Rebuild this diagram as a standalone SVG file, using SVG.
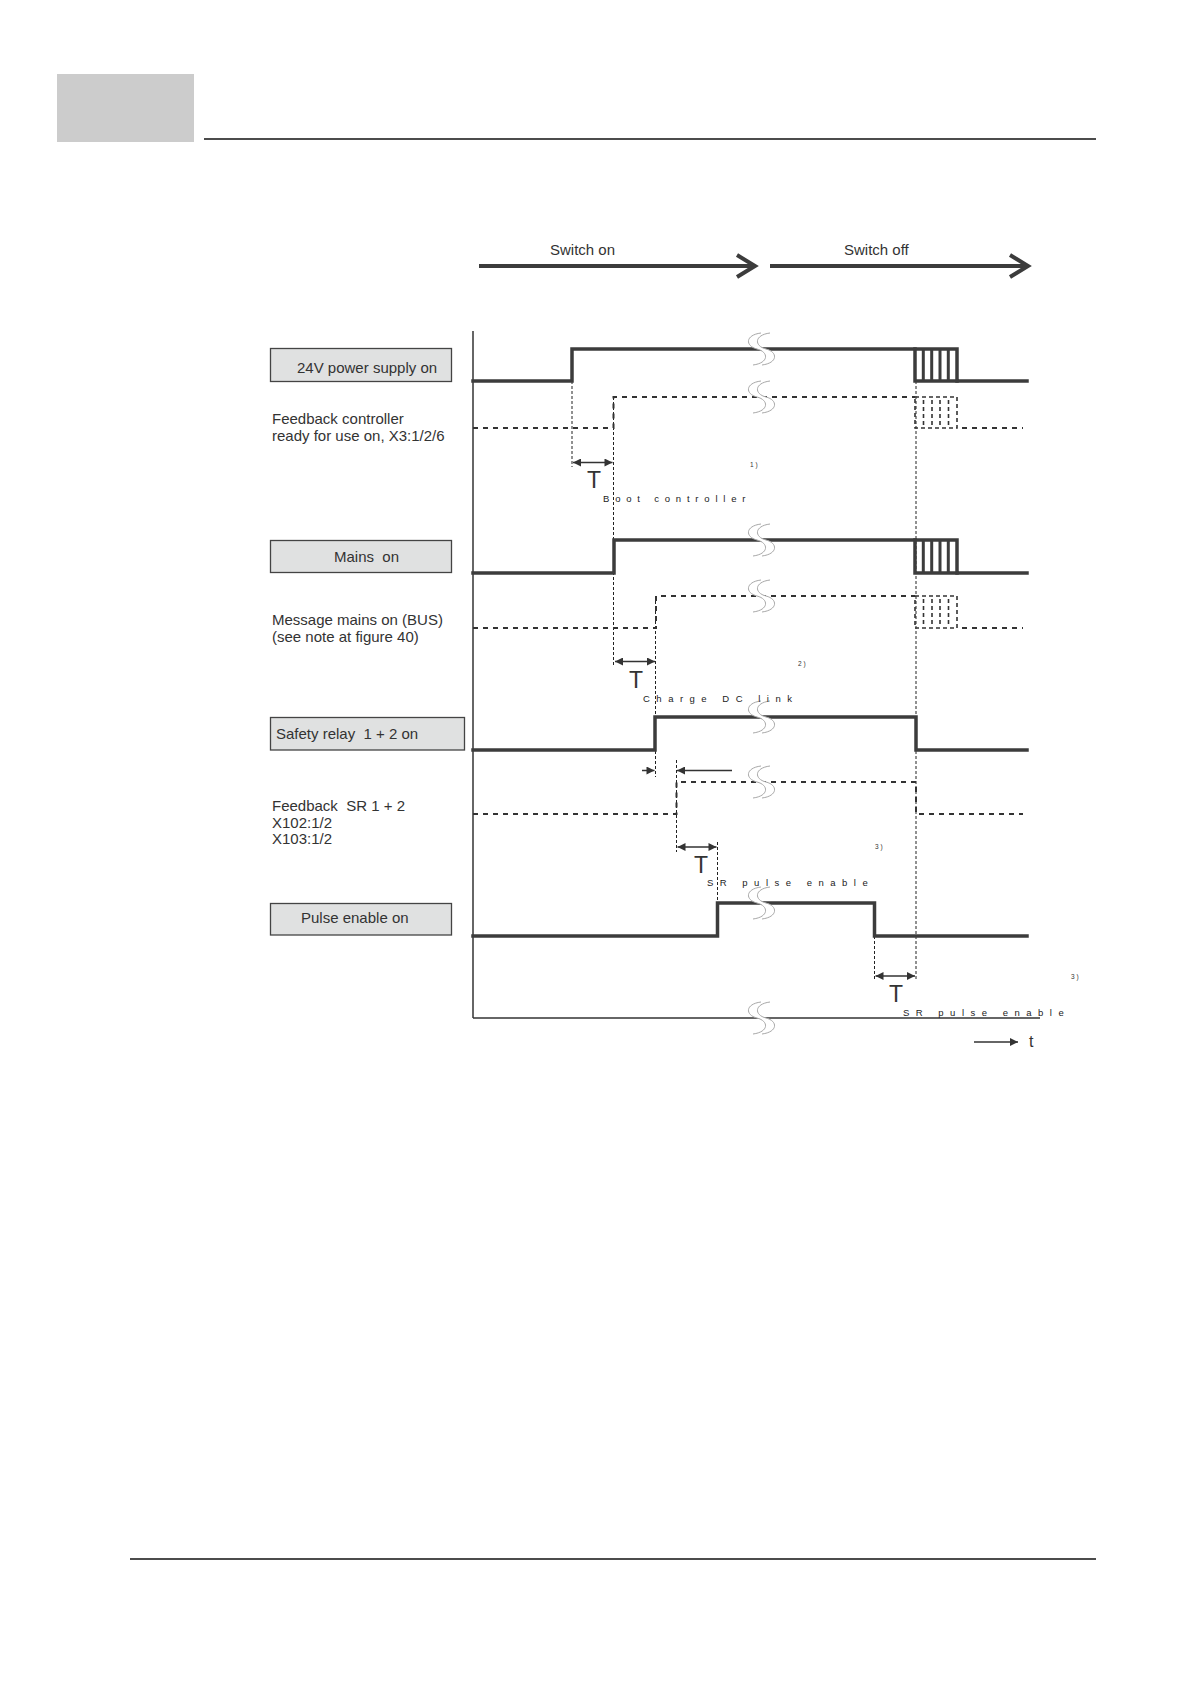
<svg xmlns="http://www.w3.org/2000/svg" width="1190" height="1684" viewBox="0 0 1190 1684">
<style>
text{font-family:"Liberation Sans",Arial,sans-serif;fill:#333;white-space:pre}
.lbl{font-size:15px}
.sp{font-size:9.5px;fill:#222}
.note{font-size:6.5px;letter-spacing:2px}
.T{font-size:23px;text-anchor:middle}
.box{fill:#e0e1e1;stroke:#444;stroke-width:1.3}
.sig{fill:none;stroke:#3c3c3c;stroke-width:3.5;stroke-linejoin:miter;stroke-linecap:square}
.bar{fill:none;stroke:#3c3c3c;stroke-width:3}
.dsig{fill:none;stroke:#333;stroke-width:2;stroke-dasharray:5 5}
.dbar{fill:none;stroke:#333;stroke-width:1.6;stroke-dasharray:4 3}
.guide{fill:none;stroke:#222;stroke-width:1;stroke-dasharray:3 2}
.tarr{fill:none;stroke:#333;stroke-width:1.5}
.axis{fill:none;stroke:#333;stroke-width:1.5}
.big{fill:none;stroke:#3c3c3c;stroke-width:4}
</style>
<defs>
<marker id="ah" viewBox="0 0 10 10" refX="10" refY="5" markerWidth="9" markerHeight="8" markerUnits="userSpaceOnUse" orient="auto-start-reverse">
<path d="M0,0 L10,5 L0,10 Z" fill="#333"/>
</marker>
<g id="brk">
<path d="M6,-16 C-10,-14 -10,-3 2,0 C14,3 14,14 -2,16 L7,16 C23,14 23,3 11,0 C-1,-3 -1,-14 15,-16 Z" fill="#fff"/>
<path d="M6,-16 C-10,-14 -10,-3 2,0 C14,3 14,14 -2,16" fill="none" stroke="#a8a8a8" stroke-width="1"/>
<path d="M15,-16 C-1,-14 -1,-3 11,0 C23,3 23,14 7,16" fill="none" stroke="#a8a8a8" stroke-width="1"/>
</g>
</defs>

<g id="header">
<rect x="57" y="74" width="137" height="68" fill="#cccccc"/>
<line x1="204" y1="139" x2="1096" y2="139" stroke="#111" stroke-width="1.5"/>
</g>
<g id="footer">
<line x1="130" y1="1559" x2="1096" y2="1559" stroke="#111" stroke-width="1.5"/>
</g>

<g id="phase-switch-on">
<line class="big" x1="479" y1="266" x2="753" y2="266"/>
<path class="big" d="M737,255 L755,266 L737,277"/>
<text class="lbl" x="550" y="255">Switch on</text>
</g>
<g id="phase-switch-off">
<line class="big" x1="770" y1="266" x2="1026" y2="266"/>
<path class="big" d="M1010,255 L1028,266 L1010,277"/>
<text class="lbl" x="844" y="255">Switch off</text>
</g>

<g id="axes">
<line class="axis" x1="473" y1="331" x2="473" y2="1018"/>
<line class="axis" x1="473" y1="1018" x2="1040" y2="1018"/>
</g>

<g id="label-24v">
<rect class="box" x="270.5" y="348.5" width="181" height="33"/>
<text class="lbl" x="297" y="373">24V power supply on</text>
</g>
<g id="label-feedback-controller">
<text class="lbl" x="272" y="424">Feedback controller</text>
<text class="lbl" x="272" y="441">ready for use on, X3:1/2/6</text>
</g>
<g id="label-mains">
<rect class="box" x="270.5" y="540.5" width="181" height="32"/>
<text class="lbl" x="334" y="562">Mains  on</text>
</g>
<g id="label-message-mains">
<text class="lbl" x="272" y="625">Message mains on (BUS)</text>
<text class="lbl" x="272" y="642">(see note at figure 40)</text>
</g>
<g id="label-safety-relay">
<rect class="box" x="270.5" y="717.5" width="194" height="32.5"/>
<text class="lbl" x="276" y="739">Safety relay  1 + 2 on</text>
</g>
<g id="label-feedback-sr">
<text class="lbl" x="272" y="811">Feedback  SR 1 + 2</text>
<text class="lbl" x="272" y="828">X102:1/2</text>
<text class="lbl" x="272" y="844">X103:1/2</text>
</g>
<g id="label-pulse-enable">
<rect class="box" x="270.5" y="903.5" width="181" height="31.5"/>
<text class="lbl" x="301" y="923">Pulse enable on</text>
</g>

<g id="guides">
<line class="guide" x1="572" y1="381" x2="572" y2="467"/>
<line class="guide" x1="613.5" y1="397" x2="613.5" y2="666"/>
<line class="guide" x1="655.5" y1="596" x2="655.5" y2="777"/>
<line class="guide" x1="676.5" y1="760" x2="676.5" y2="852"/>
<line class="guide" x1="717.5" y1="842" x2="717.5" y2="903"/>
<line class="guide" x1="916" y1="381" x2="916" y2="980"/>
<line class="guide" x1="874.5" y1="936" x2="874.5" y2="980"/>
</g>

<g id="signal-24v">
<path class="sig" d="M473,381 H572 V349 H957 V381 H1027"/>
<path class="sig" d="M915,349 V381 H957"/>
<path class="bar" d="M923.3,349 V381 M931.7,349 V381 M940,349 V381 M948.3,349 V381"/>
</g>
<g id="signal-feedback-controller">
<path class="dsig" d="M473,428 H613.5 V397 H915"/>
<rect class="dbar" x="915" y="397" width="42" height="31"/>
<path class="dbar" d="M923.5,400 V426 M932,400 V426 M940,400 V426 M948.5,400 V426"/>
<path class="dsig" d="M962,428 H1023"/>
</g>
<g id="signal-mains">
<path class="sig" d="M473,573 H614 V540 H957 V573 H1027"/>
<path class="sig" d="M915,540 V573 H957"/>
<path class="bar" d="M923.3,540 V573 M931.7,540 V573 M940,540 V573 M948.3,540 V573"/>
</g>
<g id="signal-message-mains">
<path class="dsig" d="M473,628 H656 V596 H915"/>
<rect class="dbar" x="915" y="596" width="42" height="32"/>
<path class="dbar" d="M923.5,599 V626 M932,599 V626 M940,599 V626 M948.5,599 V626"/>
<path class="dsig" d="M962,628 H1023"/>
</g>
<g id="signal-safety-relay">
<path class="sig" d="M473,750 H655 V717 H916 V750 H1027"/>
</g>
<g id="signal-feedback-sr">
<path class="dsig" d="M473,814 H676.5 V782 H916 V814 H1023"/>
</g>
<g id="signal-pulse-enable">
<path class="sig" d="M473,936 H717.5 V903 H874.5 V936 H1027"/>
</g>

<g id="breaks">
<use href="#brk" x="755" y="349"/>
<use href="#brk" x="755" y="397"/>
<use href="#brk" x="755" y="540"/>
<use href="#brk" x="755" y="596"/>
<use href="#brk" x="755" y="717"/>
<use href="#brk" x="755" y="782"/>
<use href="#brk" x="755" y="903"/>
<use href="#brk" x="755" y="1018"/>
</g>

<g id="connectors">
<line class="tarr" x1="573" y1="462.5" x2="612.5" y2="462.5" marker-start="url(#ah)" marker-end="url(#ah)"/>
<line class="tarr" x1="615" y1="661.5" x2="655" y2="661.5" marker-start="url(#ah)" marker-end="url(#ah)"/>
<line class="tarr" x1="642" y1="770.5" x2="654.5" y2="770.5" marker-end="url(#ah)"/>
<line class="tarr" x1="732" y1="770.5" x2="677" y2="770.5" marker-end="url(#ah)"/>
<line class="tarr" x1="677.5" y1="847" x2="716.5" y2="847" marker-start="url(#ah)" marker-end="url(#ah)"/>
<line class="tarr" x1="875.5" y1="976" x2="915" y2="976" marker-start="url(#ah)" marker-end="url(#ah)"/>
<line class="tarr" x1="974" y1="1042" x2="1018" y2="1042" marker-end="url(#ah)"/>
</g>

<g id="annotations">
<text class="T" x="594" y="488">T</text>
<text class="sp" x="603" y="501.5" letter-spacing="5.8">Boot controller</text>
<text class="note" x="750" y="467">1)</text>
<text class="T" x="636" y="688">T</text>
<text class="sp" x="643" y="701.5" letter-spacing="6.5">Charge DC link</text>
<text class="note" x="798" y="666">2)</text>
<text class="T" x="701" y="873">T</text>
<text class="sp" x="707" y="886" letter-spacing="6.5">SR pulse enable</text>
<text class="note" x="875" y="849">3)</text>
<text class="T" x="896" y="1002">T</text>
<text class="sp" x="903" y="1015.5" letter-spacing="6.5">SR pulse enable</text>
<text class="note" x="1071" y="979">3)</text>
<text x="1029" y="1047" font-size="16">t</text>
</g>
</svg>
